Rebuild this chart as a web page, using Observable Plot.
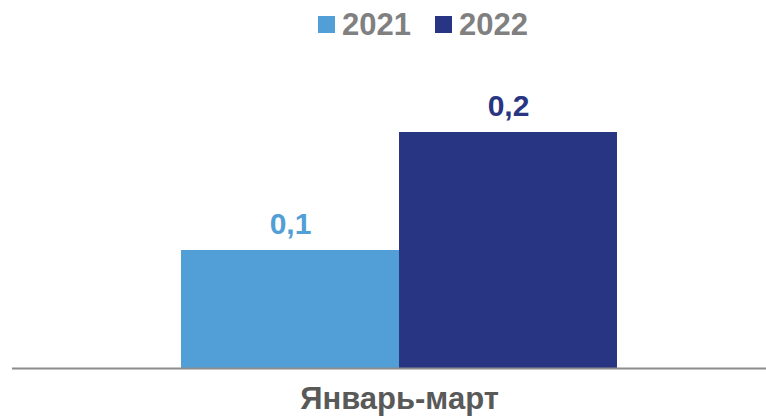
<!DOCTYPE html>
<html>
<head>
<meta charset="utf-8">
<script src="https://cdn.jsdelivr.net/npm/d3@7"></script>
<script src="https://cdn.jsdelivr.net/npm/@observablehq/plot@0.6"></script>
<style>
  html, body { margin: 0; padding: 0; background: #fff; }
  body { width: 766px; height: 417px; overflow: hidden; font-family: "Liberation Sans", Arial, sans-serif; }
  #legend { height: 50px; position: relative; }
  .item { position: absolute; top: 0; display: flex; align-items: center; height: 48px; }
  .sw { width: 17px; height: 17px; margin-right: 7px; }
  .lt { font-size: 31px; font-weight: bold; color: #808080; line-height: 1; }
</style>
</head>
<body>
<div id="legend"></div>
<div id="chart"></div>
<script>
const categories = ["Январь-март"];
const years = ["2021", "2022"];
const values = [0.1, 0.2];
const labels = ["0,1", "0,2"];
const colors = ["#519fd6", "#283583"];

const data = years.map((y, i) => ({cat: categories[0], year: y, value: values[i], label: labels[i]}));

// legend
const legend = document.getElementById("legend");
const lefts = [318, 435];
years.forEach((y, i) => {
  const it = document.createElement("div");
  it.className = "item";
  it.style.left = lefts[i] + "px";
  it.innerHTML = `<div class="sw" style="background:${colors[i]}"></div><span class="lt">${y}</span>`;
  legend.appendChild(it);
});

const chart = Plot.plot({
  width: 766,
  height: 367,
  marginLeft: 181,
  marginRight: 149,
  marginTop: 82,
  marginBottom: 49,
  style: {fontFamily: "'Liberation Sans', Arial, sans-serif", background: "#fff"},
  fx: {domain: categories, padding: 0, label: null, axis: null},
  x: {domain: years, padding: 0, axis: null},
  y: {domain: [0, 0.2], axis: null},
  color: {domain: years, range: colors},
  marks: [
    Plot.barY(data, {fx: "cat", x: "year", y: "value", fill: "year"}),
    Plot.text(data, {fx: "cat", x: "year", y: "value", text: "label", fill: "year",
      fontSize: 30, fontWeight: "bold", lineAnchor: "bottom", dy: -17}),
    Plot.ruleY([0], {stroke: "#8c8c8c", strokeWidth: 2, insetLeft: -169, insetRight: -149}),
    Plot.axisFx({anchor: "bottom", tickSize: 0, tickPadding: 18, fontSize: 31, fontWeight: "bold", fill: "#595959", label: null})
  ]
});
document.getElementById("chart").appendChild(chart);
</script>
</body>
</html>
